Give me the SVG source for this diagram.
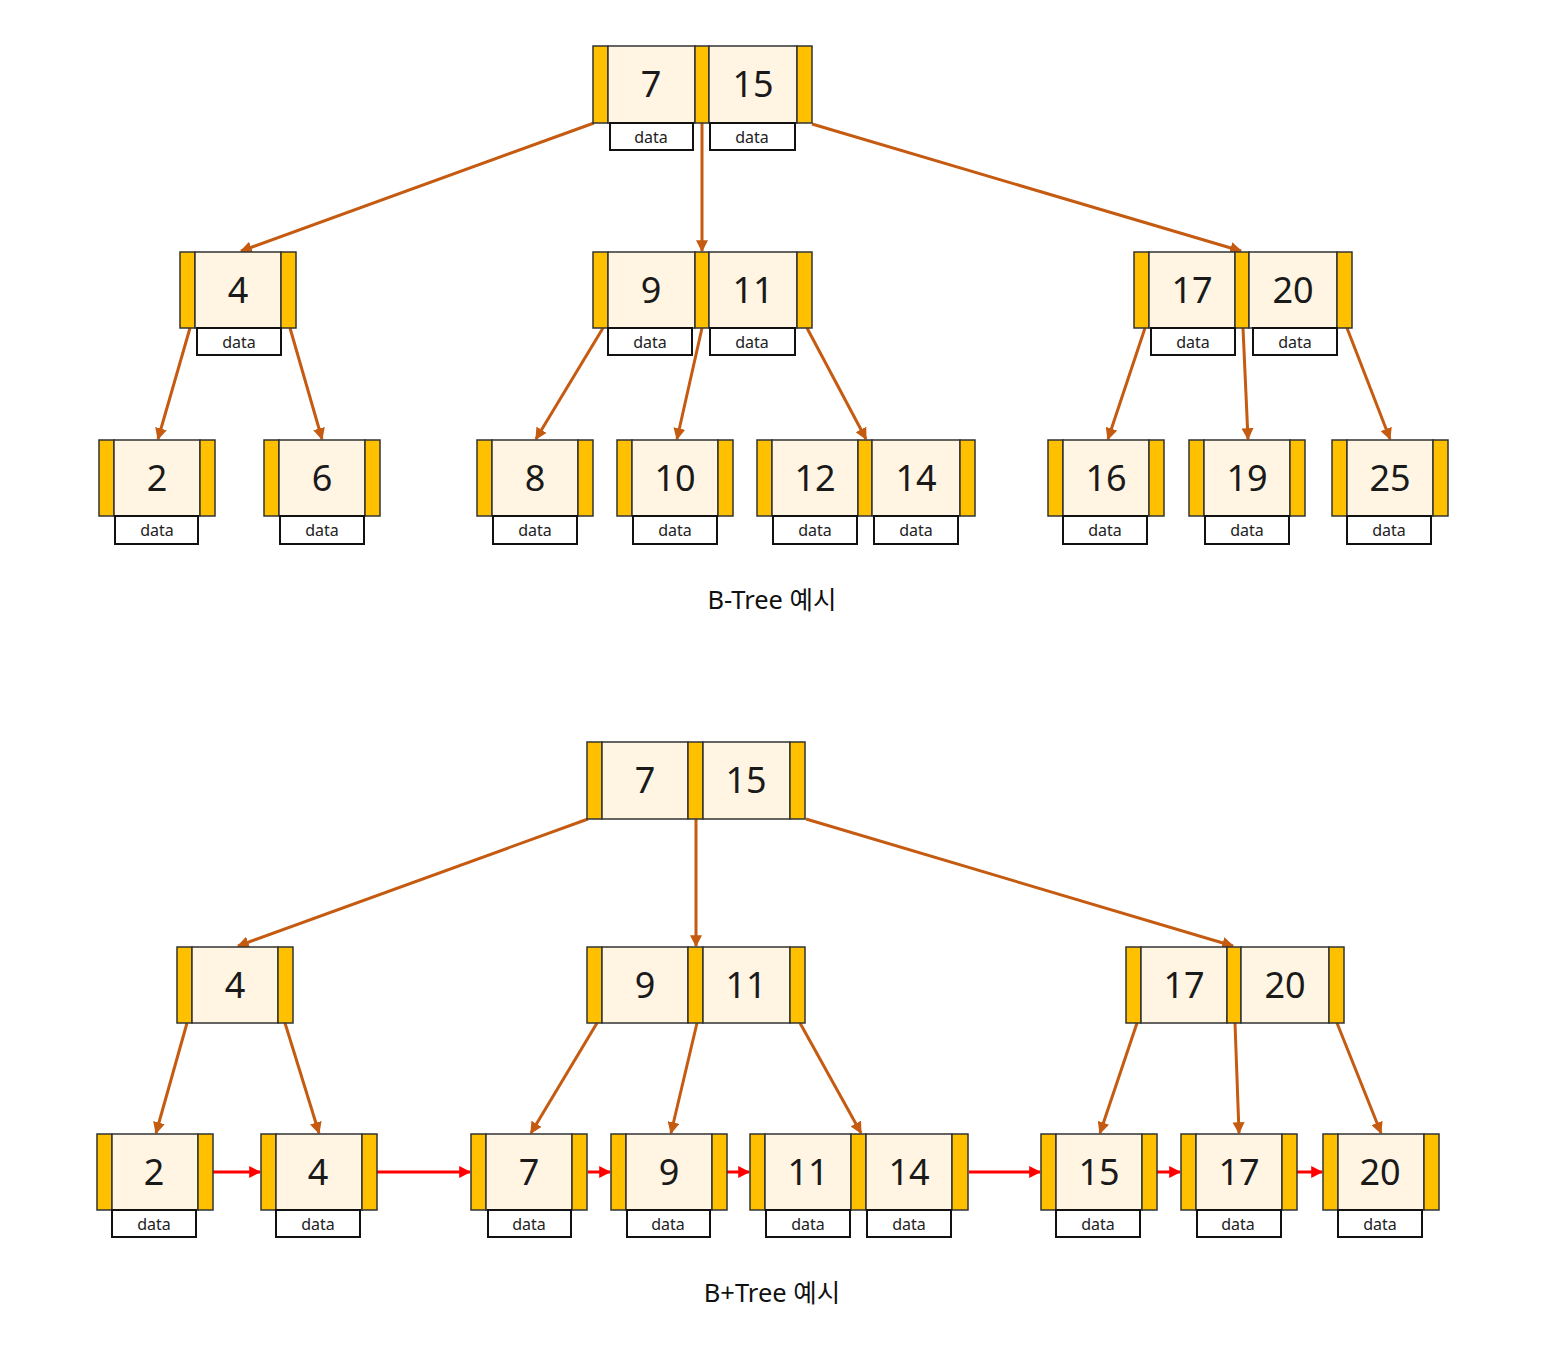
<svg xmlns="http://www.w3.org/2000/svg" width="1548" height="1370" viewBox="0 0 1548 1370">
<style>
.bar{fill:#FFC000;stroke:#333;stroke-width:1.5}
.cell{fill:#FFF5E2;stroke:#333;stroke-width:1.5}
.db{fill:#fff;stroke:#111;stroke-width:2}
.num{font-family:"Noto Sans","DejaVu Sans",sans-serif;font-size:36px;fill:#1a1a1a;text-anchor:middle}
.dt{font-family:"Noto Sans","DejaVu Sans",sans-serif;font-size:16px;fill:#222;text-anchor:middle}
.cap{font-family:"Noto Sans","Noto Sans CJK KR",sans-serif;font-size:25.5px;fill:#111;text-anchor:middle}
.e{stroke:#C55A11;stroke-width:3;fill:none;marker-end:url(#ao)}
.r{stroke:#FF0000;stroke-width:3;fill:none;marker-end:url(#ar)}
</style>
<defs>
<marker id="ao" viewBox="0 0 10 10" refX="9" refY="5" markerWidth="4" markerHeight="4" orient="auto"><path d="M0,0 L10,5 L0,10 z" fill="#C55A11"/></marker>
<marker id="ar" viewBox="0 0 10 10" refX="9" refY="5" markerWidth="4" markerHeight="4" orient="auto"><path d="M0,0 L10,5 L0,10 z" fill="#FF0000"/></marker>
</defs>
<rect width="1548" height="1370" fill="#fff"/>

<g id="connectors">
<line class="e" x1="594" y1="123" x2="241" y2="251"/>
<line class="e" x1="702" y1="123" x2="702" y2="251"/>
<line class="e" x1="812" y1="124" x2="1241" y2="251"/>
<line class="e" x1="190" y1="328" x2="158" y2="439"/>
<line class="e" x1="290" y1="328" x2="322" y2="439"/>
<line class="e" x1="603" y1="328" x2="536" y2="439"/>
<line class="e" x1="702" y1="328" x2="677" y2="439"/>
<line class="e" x1="807" y1="328" x2="866" y2="439"/>
<line class="e" x1="1145" y1="328" x2="1108" y2="439"/>
<line class="e" x1="1243" y1="328" x2="1248" y2="439"/>
<line class="e" x1="1347" y1="328" x2="1390" y2="439"/>

<line class="e" x1="588" y1="819" x2="238" y2="946"/>
<line class="e" x1="696" y1="819" x2="696" y2="946"/>
<line class="e" x1="806" y1="819" x2="1233" y2="946"/>
<line class="e" x1="187" y1="1023" x2="156" y2="1133"/>
<line class="e" x1="285" y1="1023" x2="319" y2="1133"/>
<line class="e" x1="597" y1="1023" x2="531" y2="1133"/>
<line class="e" x1="697" y1="1023" x2="671" y2="1133"/>
<line class="e" x1="800" y1="1023" x2="861" y2="1133"/>
<line class="e" x1="1137" y1="1023" x2="1100" y2="1133"/>
<line class="e" x1="1235" y1="1023" x2="1239" y2="1133"/>
<line class="e" x1="1337" y1="1023" x2="1381" y2="1133"/>

<line class="r" x1="213" y1="1172" x2="260" y2="1172"/>
<line class="r" x1="377" y1="1172" x2="470" y2="1172"/>
<line class="r" x1="588" y1="1172" x2="610" y2="1172"/>
<line class="r" x1="727" y1="1172" x2="749" y2="1172"/>
<line class="r" x1="969" y1="1172" x2="1040" y2="1172"/>
<line class="r" x1="1157" y1="1172" x2="1180" y2="1172"/>
<line class="r" x1="1297" y1="1172" x2="1322" y2="1172"/>
</g>

<!-- B-Tree -->
<g id="bt-root" transform="translate(593,46)">
<rect class="bar" x="0" y="0" width="15" height="77"/><rect class="cell" x="15" y="0" width="87" height="77"/><rect class="bar" x="102" y="0" width="14" height="77"/><rect class="cell" x="116" y="0" width="88" height="77"/><rect class="bar" x="204" y="0" width="15" height="77"/>
<text class="num" x="58" y="51">7</text><text class="num" x="160" y="51">15</text>
<rect class="db" x="17" y="77" width="83" height="27"/><text class="dt" x="58" y="97">data</text>
<rect class="db" x="117" y="77" width="85" height="27"/><text class="dt" x="159" y="97">data</text>
</g>
<g id="bt-4" transform="translate(180,252)">
<rect class="bar" x="0" y="0" width="15" height="76"/><rect class="cell" x="15" y="0" width="86" height="76"/><rect class="bar" x="101" y="0" width="15" height="76"/>
<text class="num" x="58" y="51">4</text>
<rect class="db" x="17" y="76" width="84" height="27"/><text class="dt" x="59" y="96">data</text>
</g>
<g id="bt-9-11" transform="translate(593,252)">
<rect class="bar" x="0" y="0" width="15" height="76"/><rect class="cell" x="15" y="0" width="87" height="76"/><rect class="bar" x="102" y="0" width="14" height="76"/><rect class="cell" x="116" y="0" width="88" height="76"/><rect class="bar" x="204" y="0" width="15" height="76"/>
<text class="num" x="58" y="51">9</text><text class="num" x="160" y="51">11</text>
<rect class="db" x="15" y="76" width="84" height="27"/><text class="dt" x="57" y="96">data</text>
<rect class="db" x="117" y="76" width="85" height="27"/><text class="dt" x="159" y="96">data</text>
</g>
<g id="bt-17-20" transform="translate(1134,252)">
<rect class="bar" x="0" y="0" width="15" height="76"/><rect class="cell" x="15" y="0" width="86" height="76"/><rect class="bar" x="101" y="0" width="14" height="76"/><rect class="cell" x="115" y="0" width="88" height="76"/><rect class="bar" x="203" y="0" width="15" height="76"/>
<text class="num" x="58" y="51">17</text><text class="num" x="159" y="51">20</text>
<rect class="db" x="17" y="76" width="84" height="27"/><text class="dt" x="59" y="96">data</text>
<rect class="db" x="119" y="76" width="84" height="27"/><text class="dt" x="161" y="96">data</text>
</g>
<g id="bt-2" transform="translate(99,440)">
<rect class="bar" x="0" y="0" width="15" height="76"/><rect class="cell" x="15" y="0" width="86" height="76"/><rect class="bar" x="101" y="0" width="15" height="76"/>
<text class="num" x="58" y="51">2</text>
<rect class="db" x="16" y="76" width="83" height="28"/><text class="dt" x="58" y="96">data</text>
</g>
<g id="bt-6" transform="translate(264,440)">
<rect class="bar" x="0" y="0" width="15" height="76"/><rect class="cell" x="15" y="0" width="86" height="76"/><rect class="bar" x="101" y="0" width="15" height="76"/>
<text class="num" x="58" y="51">6</text>
<rect class="db" x="16" y="76" width="84" height="28"/><text class="dt" x="58" y="96">data</text>
</g>
<g id="bt-8" transform="translate(477,440)">
<rect class="bar" x="0" y="0" width="15" height="76"/><rect class="cell" x="15" y="0" width="86" height="76"/><rect class="bar" x="101" y="0" width="15" height="76"/>
<text class="num" x="58" y="51">8</text>
<rect class="db" x="16" y="76" width="84" height="28"/><text class="dt" x="58" y="96">data</text>
</g>
<g id="bt-10" transform="translate(617,440)">
<rect class="bar" x="0" y="0" width="15" height="76"/><rect class="cell" x="15" y="0" width="86" height="76"/><rect class="bar" x="101" y="0" width="15" height="76"/>
<text class="num" x="58" y="51">10</text>
<rect class="db" x="16" y="76" width="84" height="28"/><text class="dt" x="58" y="96">data</text>
</g>
<g id="bt-12-14" transform="translate(757,440)">
<rect class="bar" x="0" y="0" width="15" height="76"/><rect class="cell" x="15" y="0" width="86" height="76"/><rect class="bar" x="101" y="0" width="14" height="76"/><rect class="cell" x="115" y="0" width="88" height="76"/><rect class="bar" x="203" y="0" width="15" height="76"/>
<text class="num" x="58" y="51">12</text><text class="num" x="159" y="51">14</text>
<rect class="db" x="16" y="76" width="84" height="28"/><text class="dt" x="58" y="96">data</text>
<rect class="db" x="117" y="76" width="84" height="28"/><text class="dt" x="159" y="96">data</text>
</g>
<g id="bt-16" transform="translate(1048,440)">
<rect class="bar" x="0" y="0" width="15" height="76"/><rect class="cell" x="15" y="0" width="86" height="76"/><rect class="bar" x="101" y="0" width="15" height="76"/>
<text class="num" x="58" y="51">16</text>
<rect class="db" x="15" y="76" width="84" height="28"/><text class="dt" x="57" y="96">data</text>
</g>
<g id="bt-19" transform="translate(1189,440)">
<rect class="bar" x="0" y="0" width="15" height="76"/><rect class="cell" x="15" y="0" width="86" height="76"/><rect class="bar" x="101" y="0" width="15" height="76"/>
<text class="num" x="58" y="51">19</text>
<rect class="db" x="16" y="76" width="84" height="28"/><text class="dt" x="58" y="96">data</text>
</g>
<g id="bt-25" transform="translate(1332,440)">
<rect class="bar" x="0" y="0" width="15" height="76"/><rect class="cell" x="15" y="0" width="86" height="76"/><rect class="bar" x="101" y="0" width="15" height="76"/>
<text class="num" x="58" y="51">25</text>
<rect class="db" x="15" y="76" width="84" height="28"/><text class="dt" x="57" y="96">data</text>
</g>
<text class="cap" x="772" y="609">B-Tree 예시</text>

<!-- B+Tree -->
<g id="bp-root" transform="translate(587,742)">
<rect class="bar" x="0" y="0" width="15" height="77"/><rect class="cell" x="15" y="0" width="86" height="77"/><rect class="bar" x="101" y="0" width="15" height="77"/><rect class="cell" x="116" y="0" width="87" height="77"/><rect class="bar" x="203" y="0" width="15" height="77"/>
<text class="num" x="58" y="51">7</text><text class="num" x="159" y="51">15</text>
</g>
<g id="bp-4" transform="translate(177,947)">
<rect class="bar" x="0" y="0" width="15" height="76"/><rect class="cell" x="15" y="0" width="86" height="76"/><rect class="bar" x="101" y="0" width="15" height="76"/>
<text class="num" x="58" y="51">4</text>
</g>
<g id="bp-9-11" transform="translate(587,947)">
<rect class="bar" x="0" y="0" width="15" height="76"/><rect class="cell" x="15" y="0" width="86" height="76"/><rect class="bar" x="101" y="0" width="15" height="76"/><rect class="cell" x="116" y="0" width="87" height="76"/><rect class="bar" x="203" y="0" width="15" height="76"/>
<text class="num" x="58" y="51">9</text><text class="num" x="159" y="51">11</text>
</g>
<g id="bp-17-20" transform="translate(1126,947)">
<rect class="bar" x="0" y="0" width="15" height="76"/><rect class="cell" x="15" y="0" width="86" height="76"/><rect class="bar" x="101" y="0" width="14" height="76"/><rect class="cell" x="115" y="0" width="88" height="76"/><rect class="bar" x="203" y="0" width="15" height="76"/>
<text class="num" x="58" y="51">17</text><text class="num" x="159" y="51">20</text>
</g>
<g id="bp-2" transform="translate(97,1134)">
<rect class="bar" x="0" y="0" width="15" height="76"/><rect class="cell" x="15" y="0" width="86" height="76"/><rect class="bar" x="101" y="0" width="15" height="76"/>
<text class="num" x="57" y="51">2</text>
<rect class="db" x="15" y="76" width="84" height="27"/><text class="dt" x="57" y="96">data</text>
</g>
<g id="bp-4l" transform="translate(261,1134)">
<rect class="bar" x="0" y="0" width="15" height="76"/><rect class="cell" x="15" y="0" width="86" height="76"/><rect class="bar" x="101" y="0" width="15" height="76"/>
<text class="num" x="57" y="51">4</text>
<rect class="db" x="15" y="76" width="84" height="27"/><text class="dt" x="57" y="96">data</text>
</g>
<g id="bp-7" transform="translate(471,1134)">
<rect class="bar" x="0" y="0" width="15" height="76"/><rect class="cell" x="15" y="0" width="86" height="76"/><rect class="bar" x="101" y="0" width="15" height="76"/>
<text class="num" x="58" y="51">7</text>
<rect class="db" x="17" y="76" width="83" height="27"/><text class="dt" x="58" y="96">data</text>
</g>
<g id="bp-9" transform="translate(611,1134)">
<rect class="bar" x="0" y="0" width="15" height="76"/><rect class="cell" x="15" y="0" width="86" height="76"/><rect class="bar" x="101" y="0" width="15" height="76"/>
<text class="num" x="58" y="51">9</text>
<rect class="db" x="16" y="76" width="83" height="27"/><text class="dt" x="57" y="96">data</text>
</g>
<g id="bp-11-14" transform="translate(750,1134)">
<rect class="bar" x="0" y="0" width="15" height="76"/><rect class="cell" x="15" y="0" width="86" height="76"/><rect class="bar" x="101" y="0" width="15" height="76"/><rect class="cell" x="116" y="0" width="86" height="76"/><rect class="bar" x="202" y="0" width="16" height="76"/>
<text class="num" x="58" y="51">11</text><text class="num" x="159" y="51">14</text>
<rect class="db" x="16" y="76" width="84" height="27"/><text class="dt" x="58" y="96">data</text>
<rect class="db" x="117" y="76" width="84" height="27"/><text class="dt" x="159" y="96">data</text>
</g>
<g id="bp-15" transform="translate(1041,1134)">
<rect class="bar" x="0" y="0" width="15" height="76"/><rect class="cell" x="15" y="0" width="86" height="76"/><rect class="bar" x="101" y="0" width="15" height="76"/>
<text class="num" x="58" y="51">15</text>
<rect class="db" x="15" y="76" width="84" height="27"/><text class="dt" x="57" y="96">data</text>
</g>
<g id="bp-17" transform="translate(1181,1134)">
<rect class="bar" x="0" y="0" width="15" height="76"/><rect class="cell" x="15" y="0" width="86" height="76"/><rect class="bar" x="101" y="0" width="15" height="76"/>
<text class="num" x="58" y="51">17</text>
<rect class="db" x="16" y="76" width="84" height="27"/><text class="dt" x="57" y="96">data</text>
</g>
<g id="bp-20" transform="translate(1323,1134)">
<rect class="bar" x="0" y="0" width="15" height="76"/><rect class="cell" x="15" y="0" width="86" height="76"/><rect class="bar" x="101" y="0" width="15" height="76"/>
<text class="num" x="57" y="51">20</text>
<rect class="db" x="15" y="76" width="84" height="27"/><text class="dt" x="57" y="96">data</text>
</g>
<text class="cap" x="772" y="1302">B+Tree 예시</text>
</svg>
